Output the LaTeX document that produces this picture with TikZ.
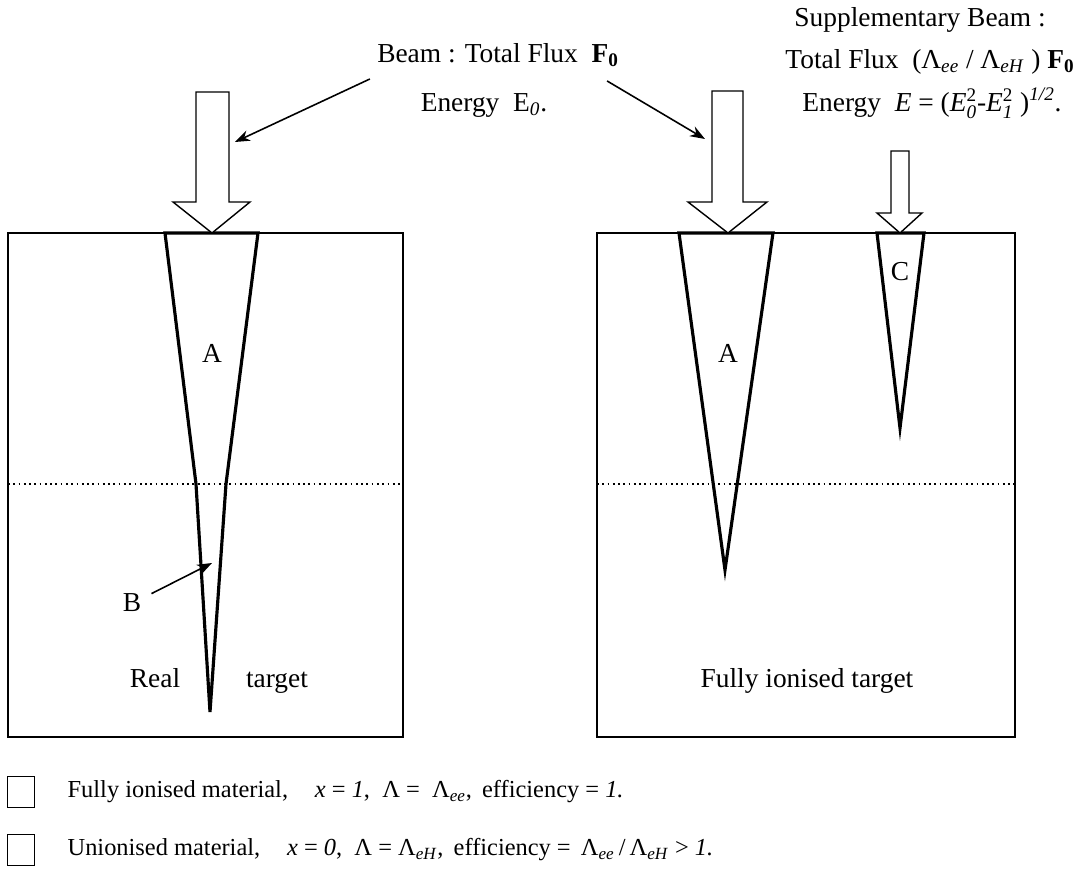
\documentclass[tikz,border=0pt]{standalone}
\usepackage{amsmath}
\usepackage{fontspec}
\setmainfont{Liberation Serif}
\usetikzlibrary{arrows.meta, positioning, calc}

\newcommand{\itx}[1]{\text{\textit{#1}}}
\newcommand{\upx}[1]{\text{#1}}
\newcommand{\Fnought}{\textbf{F}\textsubscript{\textbf{0}}}

\begin{document}
\begin{tikzpicture}[
                x=0.02cm, y=-0.02cm,
                font=\fontsize{15.6}{18}\selectfont,
                >={Stealth[length=3mm, width=2.2mm]},
                target/.style={draw, line width=1pt},
                cone/.style={draw, line width=1.8pt, line join=miter},
                beam/.style={draw, line width=0.8pt, fill=white},
                level/.style={dotted, line width=1pt},
                ptr/.style={->, line width=0.9pt},
                lbl/.style={inner sep=0pt},
                keytxt/.style={inner sep=0pt, font=\fontsize{13.9}{17}\selectfont},
                key/.style={draw, line width=0.9pt, minimum width=0.54cm, minimum height=0.62cm, inner sep=0pt},
                ]
                \useasboundingbox (0,0) rectangle (1080,874);

                % targets
                \draw[target] (8,233) rectangle (403,737);
                \draw[target] (597,233) rectangle (1015,737);
                \draw[level] (8,484) -- (403,484);
                \draw[level] (597,484) -- (1015,484);

                % penetration cones
                \draw[cone] (165,233) -- (196,484) -- (210,712) -- (226,484) -- (258,233) -- cycle;
                \draw[cone] (679,233) -- (725,570) -- (773,233) -- cycle;
                \draw[cone] (877,233) -- (900,428) -- (924,233) -- cycle;

                % incoming beams
                \draw[beam] (196,92) -- (229,92) -- (229,202) -- (250,202) -- (212,233) -- (173,202) -- (196,202) -- cycle;
                \draw[beam] (712,91) -- (743,91) -- (743,202) -- (767,202) -- (728,233) -- (688,202) -- (712,202) -- cycle;
                \draw[beam] (891,151) -- (909,151) -- (909,213) -- (922,213) -- (900,233) -- (877,213) -- (891,213) -- cycle;

                \node[lbl] (labA) at (212,353) {A};
                \node[lbl] (labAfull) at (728,353) {A};
                \node[lbl] (labC) at (900,272) {C};
                \node[lbl] (labB) at (132,603) {B};
                \node[lbl, anchor=base] (real) at (155,688) {Real};
                \node[lbl, anchor=base] (realtgt) at (277,688) {target};
                \node[lbl, anchor=base] (iontgt) at (807,688) {Fully ionised target};

                \node[lbl] (beamtxt) at (498,55) {Beam : Total Flux \ \Fnought};
                \node[lbl] (beamen) at (484,105) {Energy \ E\textsubscript{\textit{0}}.};

                \node[lbl] (suptxt) at (920,20) {Supplementary Beam :};
                \node[lbl] (supflux) at (930,62) {Total Flux \ (Λ\textsubscript{\textit{ee}} / Λ\textsubscript{\textit{eH}} ) \Fnought};
                \node[lbl] (supen) at (932,103) {Energy \ $\itx{E} \upx{ = (}\itx{E}_{\itx{0}}^{\upx{2}}\upx{-}\itx{E}_{\itx{1}}^{\upx{2}}\upx{ )}^{\itx{1/2}}\upx{.}$};

                \coordinate (hitL) at (235,142);
                \coordinate (hitR) at (705,139);
                \coordinate (hitB) at (212,563);
                \draw[ptr] ($(beamtxt.south west)+(-7,12)$) -- (hitL);
                \draw[ptr] ($(beamtxt.south east)+(-12,14)$) -- (hitR);
                \draw[ptr] ($(labB.north east)+(10,0)$) -- (hitB);

                % legend
                \node[key] (keyion) at (21,792) {};
                \node[key] (keyun) at (21,850) {};
                \node[keytxt, anchor=west, right=0.64cm of keyion] (txion) {Fully ionised material,\hspace{1.1em}\textit{x} = \textit{1}, \ Λ = \ Λ\textsubscript{\textit{ee}}, \,efficiency = \textit{1.}};
                \node[keytxt, anchor=west, right=0.64cm of keyun] (txun) {Unionised material,\hspace{1.1em}\textit{x} = \textit{0}, \ Λ = Λ\textsubscript{\textit{eH}}, \,efficiency = \,Λ\textsubscript{\textit{ee}}\,/\,Λ\textsubscript{\textit{eH}} > \textit{1.}};
            \end{tikzpicture}
\end{document}
